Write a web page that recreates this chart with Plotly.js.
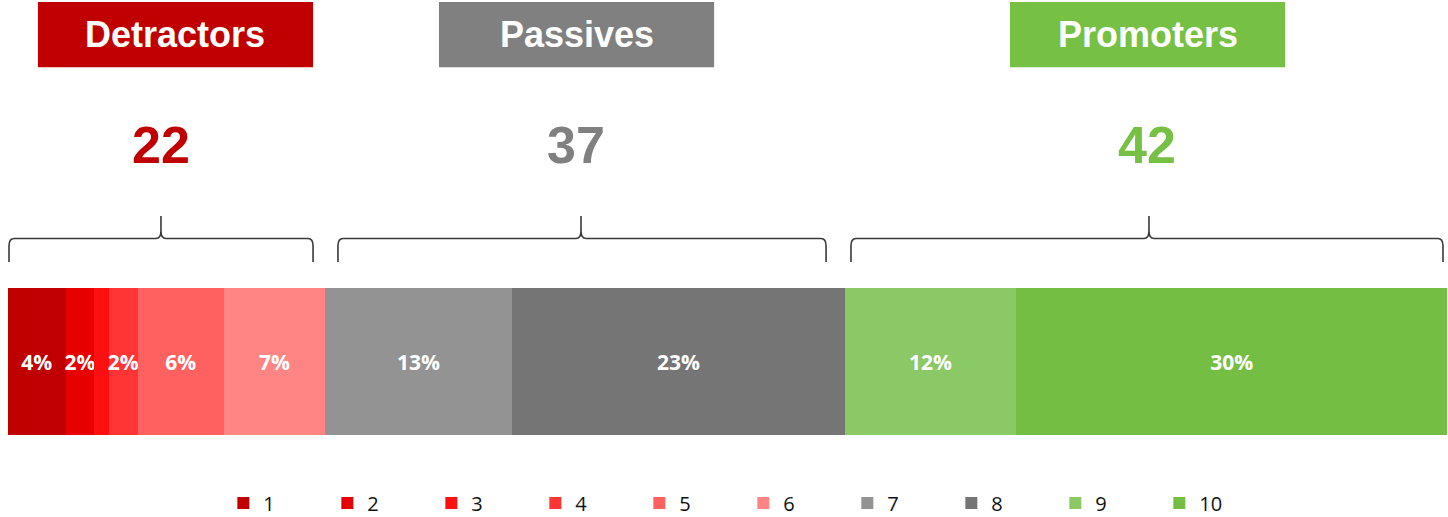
<!DOCTYPE html>
<html>
<head>
<meta charset="utf-8">
<script src="https://cdn.plot.ly/plotly-3.0.1.min.js"></script>
<style>html,body{margin:0;padding:0;background:#fff;}#chart{width:1448px;height:517px;}</style>
</head>
<body>
<div id="chart"></div>
<script>
// ---- data ----
const scores = ["1","2","3","4","5","6","7","8","9","10"];
const shares = [4.0, 2.0, 1.0, 2.0, 6.0, 7.0, 13.0, 23.1, 11.9, 29.9];
const shareLabels = ["4%","2%","","2%","6%","7%","13%","23%","12%","30%"];
const scoreColors = ["#C00000","#E60000","#FF1010","#FF3535","#FF6060","#FF8585","#939393","#757575","#8BC866","#75BE44"];
const groupNames = ["Detractors","Passives","Promoters"];
const groupTotals = [22, 37, 42];
const groupColors = ["#C00000","#808080","#76C043"];

// ---- layout constants (paper fractions of the plot width) ----
const headerCenters = [0.1164, 0.3951, 0.7919];
const headerHalf = 0.0956;
const totalCenters = [0.1063, 0.3947, 0.7915];
const braceStart = [0.0007, 0.2293, 0.5858];
const braceTip = [0.1063, 0.3982, 0.7929];
const braceEnd = [0.2120, 0.5685, 0.9972];

// ---- build ----
const total = shares.reduce((a,b)=>a+b,0);
const traces = scores.map((s,i)=>({
  type:"bar", orientation:"h", name:s,
  y:["NPS"], x:[shares[i]],
  text:[shareLabels[i]], textposition:"inside", insidetextanchor:"middle",
  textangle:0, constraintext:"none",
  textfont:{family:"Open Sans", size:21, color:"#ffffff", weight:"bold"},
  marker:{color:scoreColors[i], line:{width:0}},
  hoverinfo:"skip"
}));

const shapes = [];
const annotations = [];
const ybot = 0.4932, yc = 0.5242, yl = 0.5387, yl2 = 0.553, ytop = 0.5822;
const r = 0.0035;
groupNames.forEach((name,i)=>{
  shapes.push({type:"rect", xref:"paper", yref:"paper",
    x0:headerCenters[i]-headerHalf, x1:headerCenters[i]+headerHalf, y0:0.870, y1:0.996,
    fillcolor:groupColors[i], line:{width:0}, layer:"above"});
  annotations.push({xref:"paper", yref:"paper", x:headerCenters[i], y:0.933,
    text:"<b>"+name+"</b>", showarrow:false,
    font:{family:"Liberation Sans", size:36, color:"#ffffff"},
    xanchor:"center", yanchor:"middle"});
  annotations.push({xref:"paper", yref:"paper", x:totalCenters[i], y:0.7195,
    text:"<b>"+groupTotals[i]+"</b>", showarrow:false,
    font:{family:"Liberation Sans", size:52, color:groupColors[i]},
    xanchor:"center", yanchor:"middle"});
  const x0 = braceStart[i], x1 = braceEnd[i], t = braceTip[i];
  const p = `M ${x0},${ybot} L ${x0},${yc} Q ${x0},${yl} ${x0+r},${yl} L ${t-r},${yl} Q ${t},${yl} ${t},${yl2} L ${t},${ytop} L ${t},${yl2} Q ${t},${yl} ${t+r},${yl} L ${x1-r},${yl} Q ${x1},${yl} ${x1},${yc} L ${x1},${ybot}`;
  shapes.push({type:"path", xref:"paper", yref:"paper", path:p,
    line:{color:"#3a3a3a", width:1.6}});
});

const layout = {
  width:1448, height:517,
  margin:{l:8, r:1, t:0, b:0, pad:0, autoexpand:false},
  paper_bgcolor:"#ffffff", plot_bgcolor:"#ffffff",
  barmode:"stack", bargap:0,
  showlegend:true,
  xaxis:{range:[0,total], visible:false, fixedrange:true},
  yaxis:{domain:[0.1586,0.4429], range:[-0.5,0.5], visible:false, fixedrange:true},
  legend:{orientation:"h", x:0.511, xanchor:"center", y:0.027, yanchor:"middle",
    traceorder:"normal", entrywidth:59, entrywidthmode:"pixels",
    font:{family:"Open Sans", size:20, color:"#111111"}},
  shapes:shapes, annotations:annotations
};
Plotly.newPlot("chart", traces, layout, {displayModeBar:false, staticPlot:true});
</script>
</body>
</html>
